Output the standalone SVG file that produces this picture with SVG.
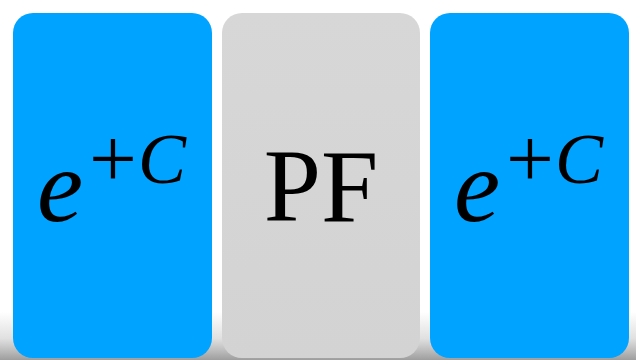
<svg xmlns="http://www.w3.org/2000/svg" width="636" height="360" viewBox="0 0 636 360">
<defs>
<linearGradient id="shadow" x1="0" y1="0" x2="0" y2="1">
<stop offset="0" stop-color="#999" stop-opacity="0"/>
<stop offset="0.55" stop-color="#999" stop-opacity="0.3"/>
<stop offset="1" stop-color="#8c8c8c" stop-opacity="0.85"/>
</linearGradient>
<linearGradient id="grayfill" x1="0" y1="0" x2="0" y2="1">
<stop offset="0" stop-color="#d7d7d7"/>
<stop offset="1" stop-color="#d3d3d3"/>
</linearGradient>
</defs>
<style>
.blue{fill:#00a3ff}
.gray{fill:url(#grayfill)}
.t{fill:#000}
.it{font-style:italic}
</style>
<rect x="0" y="0" width="636" height="360" fill="#fff"/>
<rect x="0" y="312" width="636" height="48" fill="url(#shadow)"/>
<g id="card-left">
<rect class="blue" x="13" y="13" width="199" height="345" rx="20" ry="20"/>
<text class="t" font-family="Liberation Serif" y="221"><tspan class="it" x="37" font-size="104">e</tspan><tspan x="89" y="187" font-size="85">+</tspan><tspan class="it" x="138" y="183" font-size="72">C</tspan></text>
</g>
<g id="card-middle">
<rect class="gray" x="222" y="13" width="198" height="345" rx="20" ry="20"/>
<text class="t" font-family="Liberation Serif" x="321" y="221" font-size="103" text-anchor="middle">PF</text>
</g>
<g id="card-right">
<rect class="blue" x="430" y="13" width="199" height="345" rx="20" ry="20"/>
<text class="t" font-family="Liberation Serif" y="221"><tspan class="it" x="454" font-size="104">e</tspan><tspan x="506" y="187" font-size="85">+</tspan><tspan class="it" x="555" y="183" font-size="72">C</tspan></text>
</g>
<g id="connectors"/>
</svg>
